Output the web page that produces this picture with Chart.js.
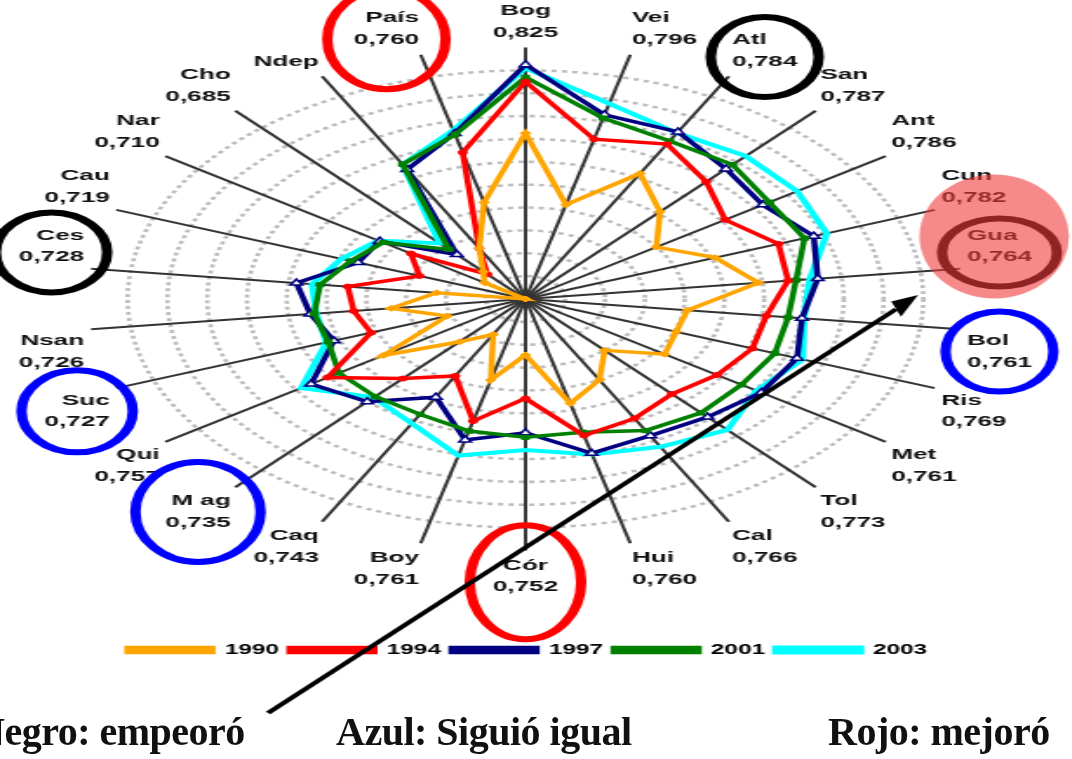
<!DOCTYPE html>
<html lang="es">
<head>
<meta charset="utf-8">
<title>IDH por departamento 1990-2003</title>
<script src="https://cdn.jsdelivr.net/npm/chart.js@4.4.1/dist/chart.umd.min.js"></script>
<style>
  html, body { margin: 0; padding: 0; background: #fff; }
  body { width: 1072px; height: 759px; overflow: hidden; position: relative; }
  #radar { position: absolute; left: 0; top: 0; transform: scaleX(1.74); transform-origin: 0 0; }
  .nota { position: absolute; top: 708px; font-family: "Liberation Serif", "Times New Roman", serif;
          font-size: 40px; font-weight: bold; color: #111; white-space: nowrap; letter-spacing: -0.5px; }
</style>
</head>
<body>
<canvas id="radar" width="616" height="759"></canvas>
<div class="nota" style="left:-24px">Negro: empeoró</div>
<div class="nota" style="left:336px">Azul: Siguió igual</div>
<div class="nota" style="left:828px">Rojo: mejoró</div>
<script>
// departamentos en el orden de las agujas del reloj, empezando arriba
const departamentos = ['Bog', 'Vei', 'Atl', 'San', 'Ant', 'Cun', 'Gua', 'Bol', 'Ris', 'Met', 'Tol', 'Cal', 'Hui',
  'Cór', 'Boy', 'Caq', 'M ag', 'Qui', 'Suc', 'Nsan', 'Ces', 'Cau', 'Nar', 'Cho', 'Ndep', 'País'];

// valor 2003 escrito junto a cada departamento
const etiquetas2003 = ['0,825', '0,796', '0,784', '0,787', '0,786', '0,782', '0,764', '0,761', '0,769', '0,761',
  '0,773', '0,766', '0,760', '0,752', '0,761', '0,743', '0,735', '0,757', '0,727', '0,726', '0,728', '0,719',
  '0,710', '0,685', '', '0,760'];

const idh1990 = [0.765, 0.705, 0.744, 0.722, 0.700, 0.722, 0.738, 0.702, 0.701, 0.705, 0.680, 0.700, 0.714,
  0.669, 0.693, 0.655, 0.670, 0.707, 0.662, 0.688, 0.665, 0.620, 0.645, 0.652, 0.670, 0.707];
const idh1994 = [0.810, 0.764, 0.773, 0.757, 0.742, 0.756, 0.753, 0.742, 0.742, 0.737, 0.731, 0.738, 0.743,
  0.707, 0.730, 0.696, 0.713, 0.741, 0.703, 0.707, 0.710, 0.677, 0.690, 0.649, 0.670, 0.752];
const idh1997 = [0.825, 0.786, 0.785, 0.772, 0.765, 0.775, 0.768, 0.760, 0.766, 0.764, 0.758, 0.755, 0.759,
  0.737, 0.747, 0.717, 0.740, 0.751, 0.723, 0.729, 0.736, 0.710, 0.709, 0.672, 0.748, 0.769];
const idh2001 = [0.814, 0.783, 0.776, 0.777, 0.769, 0.770, 0.757, 0.753, 0.754, 0.752, 0.753, 0.750, 0.740,
  0.741, 0.739, 0.734, 0.734, 0.734, 0.726, 0.727, 0.724, 0.714, 0.707, 0.678, 0.753, 0.768];
const idh2003 = [0.822, 0.796, 0.784, 0.787, 0.786, 0.782, 0.764, 0.761, 0.769, 0.761, 0.773, 0.766, 0.760,
  0.752, 0.761, 0.743, 0.735, 0.757, 0.727, 0.726, 0.728, 0.719, 0.710, 0.685, 0.753, 0.772];

const ESCALA_X = 1.74; // el grafico original esta estirado a lo ancho

// circulos de la leyenda de colores (por indice de departamento)
const circulos = [
  { idx: 25, color: '#ff0000', rx: 34, ry: 50, dy: 10 },
  { idx: 2, color: '#000000', rx: 31, ry: 40, dy: 6 },
  { idx: 7, color: '#0000ff', rx: 31, ry: 40, dy: 0 },
  { idx: 20, color: '#000000', rx: 32, ry: 40, dy: 6 },
  { idx: 18, color: '#0000ff', rx: 32, ry: 41, dy: 0 },
  { idx: 16, color: '#0000ff', rx: 36, ry: 50, dy: 0 },
  { idx: 13, color: '#ff0000', rx: 32, ry: 57, dy: 6 }
];

const anotaciones = {
  id: 'anotaciones',
  afterDraw(chart) {
    const ctx = chart.ctx;
    const items = chart.scales.r._pointLabelItems || [];
    const centro = (i) => {
      const it = items[i];
      return { x: (it.left + it.right) / 2, y: (it.top + it.bottom) / 2 };
    };
    ctx.save();
    ctx.lineWidth = 6;
    circulos.forEach(c => {
      if (!items[c.idx]) return;
      const p = centro(c.idx);
      ctx.strokeStyle = c.color;
      ctx.beginPath();
      ctx.ellipse(p.x, p.y + c.dy, c.rx, c.ry, 0, 0, Math.PI * 2);
      ctx.stroke();
    });

    // Gua: anillo oscuro bajo un circulo rojo translucido
    if (items[6]) {
      const p = centro(6);
      ctx.strokeStyle = '#000';
      ctx.beginPath();
      ctx.ellipse(p.x, p.y + 6, 33, 34, 0, 0, Math.PI * 2);
      ctx.stroke();
      ctx.fillStyle = 'rgba(240, 60, 60, 0.6)';
      ctx.beginPath();
      ctx.ellipse(p.x - 3, p.y - 10, 43, 62, 0, 0, Math.PI * 2);
      ctx.fill();
    }

    // flecha desde el texto de abajo hacia Gua
    const cola = { x: 268, y: 713 };
    const punta = { x: 918, y: 295 };
    const dx = punta.x - cola.x, dy = punta.y - cola.y;
    const largo = Math.hypot(dx, dy);
    const ux = dx / largo, uy = dy / largo;
    const bx = punta.x - ux * 26, by = punta.y - uy * 26;
    ctx.strokeStyle = '#000';
    ctx.fillStyle = '#000';
    ctx.lineWidth = 3.5;
    ctx.beginPath();
    ctx.moveTo(cola.x / ESCALA_X, cola.y);
    ctx.lineTo(bx / ESCALA_X, by);
    ctx.stroke();
    ctx.beginPath();
    ctx.moveTo(punta.x / ESCALA_X, punta.y);
    ctx.lineTo((bx - uy * 9) / ESCALA_X, by + ux * 9);
    ctx.lineTo((bx + uy * 9) / ESCALA_X, by - ux * 9);
    ctx.closePath();
    ctx.fill();
    ctx.restore();
  }
};

const serie = (label, data, color, estilo, radio, orden, extra) => Object.assign({
  label, data, order: orden,
  borderColor: color, backgroundColor: color,
  borderWidth: 3.5, fill: false, tension: 0,
  pointStyle: estilo, pointRadius: radio,
  pointBackgroundColor: color, pointBorderColor: color, pointBorderWidth: 1
}, extra || {});

const ctx = document.getElementById('radar').getContext('2d');
new Chart(ctx, {
  type: 'radar',
  data: {
    labels: departamentos.map((d, i) => etiquetas2003[i] ? [d, etiquetas2003[i]] : [d]),
    datasets: [
      serie('1990', idh1990, '#ffa500', 'rectRot', 3, 0),
      serie('1994', idh1994, '#ff0000', 'circle', 2.5, 1),
      serie('1997', idh1997, '#000080', 'triangle', 4, 3, { pointBackgroundColor: '#ffffff', pointBorderWidth: 1.5 }),
      serie('2001', idh2001, '#008000', 'rect', 3, 2),
      serie('2003', idh2003, '#00ffff', 'circle', 0, 4, { borderWidth: 4 })
    ]
  },
  options: {
    responsive: false,
    animation: false,
    layout: { padding: { top: 0, left: 0, right: 10, bottom: 92 } },
    scales: {
      r: {
        min: 0.62,
        max: 0.84,
        ticks: { display: false, stepSize: 0.02 },
        grid: {
          circular: true,
          lineWidth: 2.6,
          color: (c) => (c.tick && c.tick.value > 0.83) ? 'rgba(0,0,0,0)' : '#bdbdbd'
        },
        border: { dash: [3, 3] },
        angleLines: { color: '#333333', lineWidth: 2 },
        pointLabels: {
          color: '#111111',
          padding: 4,
          font: { family: "'Liberation Sans', Arial, sans-serif", size: 15, weight: 'bold', lineHeight: 1.45 }
        }
      }
    },
    plugins: {
      tooltip: { enabled: false },
      legend: {
        position: 'bottom',
        title: { display: true, text: '', font: { size: 1 }, padding: { top: 36, bottom: 0 } },
        labels: {
          boxWidth: 49,
          boxHeight: 5,
          padding: 6,
          color: '#000',
          sort: (a, b) => a.datasetIndex - b.datasetIndex,
          font: { family: "'Liberation Sans', Arial, sans-serif", size: 14, weight: 'bold' }
        }
      }
    }
  },
  plugins: [anotaciones]
});
</script>
</body>
</html>
